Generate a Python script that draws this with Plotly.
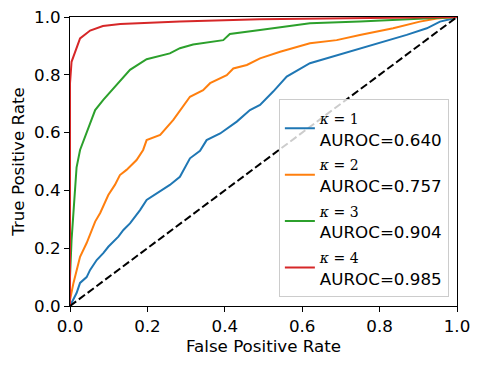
import plotly.graph_objects as go

# ROC curves, one per kappa
FPR_K1 = [0.0, 0.017, 0.026, 0.043, 0.052, 0.069, 0.086, 0.099, 0.125, 0.138, 0.155, 0.181, 0.198,
          0.233, 0.258, 0.284, 0.31, 0.336, 0.353, 0.388, 0.431, 0.465, 0.491, 0.525, 0.56, 0.62,
          0.68, 0.741, 0.801, 0.87, 0.922, 0.956, 0.99, 1.0]
TPR_K1 = [0.0, 0.045, 0.08, 0.10, 0.125, 0.159, 0.183, 0.205, 0.24, 0.263, 0.286, 0.332, 0.367,
          0.396, 0.419, 0.447, 0.511, 0.537, 0.574, 0.597, 0.638, 0.678, 0.696, 0.742, 0.794, 0.84,
          0.863, 0.886, 0.909, 0.938, 0.961, 0.984, 0.995, 1.0]

FPR_K2 = [0.0, 0.0, 0.009, 0.026, 0.043, 0.065, 0.078, 0.099, 0.116, 0.129, 0.146, 0.172, 0.189,
          0.198, 0.233, 0.267, 0.31, 0.344, 0.362, 0.405, 0.422, 0.457, 0.491, 0.543, 0.62, 0.689,
          0.749, 0.835, 0.904, 0.948, 1.0]
TPR_K2 = [0.0, 0.021, 0.08, 0.17, 0.218, 0.292, 0.322, 0.384, 0.419, 0.453, 0.471, 0.505, 0.54,
          0.574, 0.592, 0.644, 0.724, 0.747, 0.771, 0.799, 0.822, 0.834, 0.857, 0.88, 0.909, 0.92,
          0.938, 0.961, 0.984, 0.995, 1.0]

FPR_K3 = [0.0, 0.0, 0.004, 0.009, 0.017, 0.026, 0.039, 0.065, 0.086, 0.112, 0.129, 0.155, 0.198,
          0.258, 0.284, 0.318, 0.396, 0.413, 0.491, 0.62, 0.749, 0.879, 0.99, 1.0]
TPR_K3 = [0.0, 0.1, 0.228, 0.332, 0.48, 0.54, 0.586, 0.678, 0.713, 0.753, 0.776, 0.817, 0.854,
          0.874, 0.892, 0.905, 0.92, 0.941, 0.955, 0.978, 0.984, 0.992, 0.999, 1.0]

FPR_K4 = [0.0, 0.0, 0.004, 0.026, 0.052, 0.085, 0.13, 0.284, 0.49, 0.75, 1.0]
TPR_K4 = [0.0, 0.77, 0.845, 0.926, 0.953, 0.969, 0.976, 0.984, 0.992, 0.997, 1.0]

KAPPAS = [1, 2, 3, 4]
AUROCS = [0.640, 0.757, 0.904, 0.985]
COLORS = ["#1f77b4", "#ff7f0e", "#2ca02c", "#d62728"]
CURVES = [(FPR_K1, TPR_K1), (FPR_K2, TPR_K2), (FPR_K3, TPR_K3), (FPR_K4, TPR_K4)]

DIAG = [0.0, 1.0]
TICKS = [0.0, 0.2, 0.4, 0.6, 0.8, 1.0]

FONT_SIZE = 16.7

fig = go.Figure()

for (fpr, tpr), k, auc, color in zip(CURVES, KAPPAS, AUROCS, COLORS):
    label = (
        f"<span style='font-family:DejaVu Serif;font-size:14px'><i>κ</i> = {k}</span>"
        f"<br>AUROC={auc:.3f}"
    )
    fig.add_trace(
        go.Scatter(
            x=fpr,
            y=tpr,
            mode="lines",
            line={"color": color, "width": 2},
            name=label,
        )
    )

# chance line
fig.add_trace(
    go.Scatter(
        x=DIAG,
        y=DIAG,
        mode="lines",
        line={"color": "black", "width": 2, "dash": "7.7px,3.3px"},
        showlegend=False,
    )
)

axis = {
    "range": [0, 1],
    "tickvals": TICKS,
    "ticktext": [f"{t:.1f}" for t in TICKS],
    "showgrid": False,
    "zeroline": False,
    "showline": True,
    "linecolor": "black",
    "linewidth": 1.1,
    "mirror": True,
    "ticks": "outside",
    "ticklen": 5,
    "tickwidth": 1.1,
    "tickcolor": "black",
    "tickfont": {"size": FONT_SIZE},
    "automargin": False,
    "ticklabeloverflow": "allow",
}

# the page body adds an 8px offset, so margins are trimmed to land the axes where the reference has them
fig.update_layout(
    width=480,
    height=367,
    paper_bgcolor="white",
    plot_bgcolor="white",
    font={"family": "DejaVu Sans", "color": "black", "size": FONT_SIZE},
    margin={"l": 62, "r": 31, "t": 9, "b": 69},
    legend={
        "x": 0.979,
        "y": 0.031,
        "xanchor": "right",
        "yanchor": "bottom",
        "bgcolor": "rgba(255,255,255,0.8)",
        "bordercolor": "#cccccc",
        "borderwidth": 1,
        "font": {"size": FONT_SIZE},
        "valign": "middle",
    },
    xaxis={**axis, "title": {"text": "False Positive Rate", "font": {"size": FONT_SIZE}, "standoff": 3}},
    yaxis={**axis, "title": {"text": "True Positive Rate", "font": {"size": FONT_SIZE}, "standoff": 9}},
)

fig.write_html("out.html")
